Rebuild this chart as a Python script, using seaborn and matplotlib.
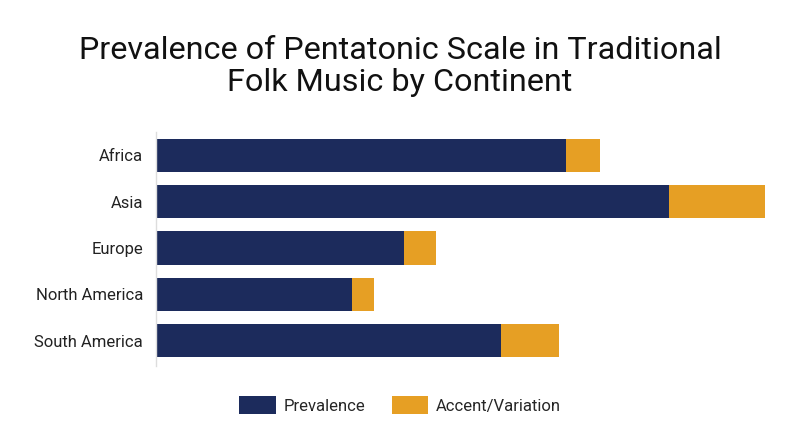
import matplotlib.pyplot as plt
import pandas as pd
import seaborn as sns

continents = ["Africa", "Asia", "Europe", "North America", "South America"]
prevalence = [68, 85, 41.2, 32.6, 57.2]
accent = [5.6, 16, 5.2, 3.6, 9.6]

navy = "#1c2b5c"
orange = "#e69f24"

df = pd.DataFrame({"Continent": continents, "Prevalence": prevalence, "Accent/Variation": accent})
df["Total"] = df["Prevalence"] + df["Accent/Variation"]

sns.set_theme(style="white")
plt.rcParams["font.family"] = ["Roboto", "DejaVu Sans"]

fig = plt.figure(figsize=(8, 4.47), dpi=100)
ax = fig.add_axes([0.1945, 0.181, 0.792, 0.524])

sns.barplot(data=df, y="Continent", x="Total", color=orange, saturation=1, width=0.72, linewidth=0, ax=ax)
sns.barplot(data=df, y="Continent", x="Prevalence", color=navy, saturation=1, width=0.72, linewidth=0, ax=ax)

ax.set_xlim(0, 105)
ax.set_ylim(4.55, -0.51)
ax.set_xlabel("")
ax.set_ylabel("")
ax.set_xticks([])
ax.tick_params(axis="y", length=0, labelsize=12, pad=9, colors="#222222")
for side in ["top", "right", "bottom"]:
    ax.spines[side].set_visible(False)
ax.spines["left"].set_color("#dddddd")
ax.spines["left"].set_linewidth(1)

fig.text(0.5, 1 - 36 / 447, "Prevalence of Pentatonic Scale in Traditional\nFolk Music by Continent",
         ha="center", va="top", fontsize=23.3, linespacing=1.11, color="#111111")

handles = [plt.Rectangle((0, 0), 1, 1, color=navy, linewidth=0),
           plt.Rectangle((0, 0), 1, 1, color=orange, linewidth=0)]
fig.legend(handles, ["Prevalence", "Accent/Variation"], loc="center", bbox_to_anchor=(0.5, 1 - 405 / 447),
           ncol=2, frameon=False, fontsize=12, handlelength=2.2, handleheight=1.3,
           columnspacing=1.6, handletextpad=0.45)

plt.savefig("out.png", dpi=100)
